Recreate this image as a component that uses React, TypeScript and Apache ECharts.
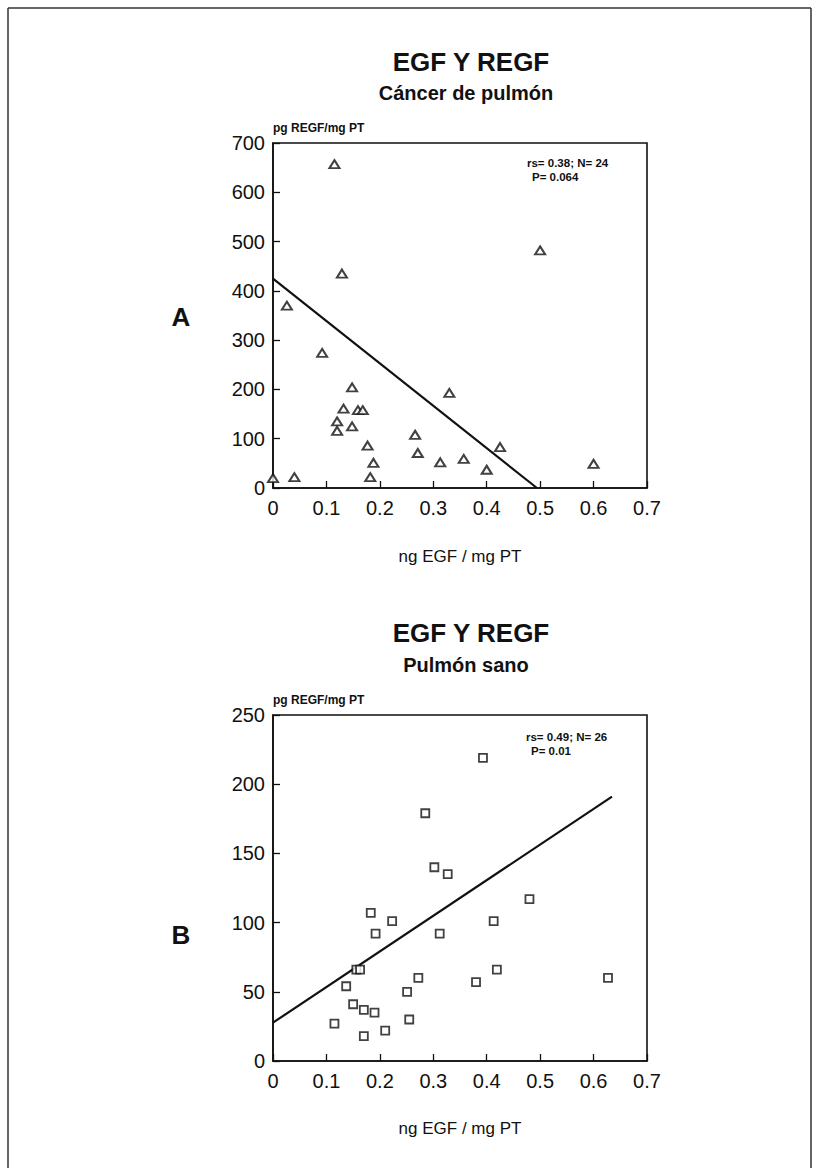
import React, { useEffect, useRef } from "react";
import * as echarts from "echarts";

// ---- Data ----
const X_TICKS = [0, 0.1, 0.2, 0.3, 0.4, 0.5, 0.6, 0.7];

// Panel A: Cáncer de pulmón (ng EGF/mg PT vs pg REGF/mg PT)
const CANCER_X = [0.0, 0.026, 0.04, 0.092, 0.115, 0.12, 0.12, 0.129, 0.132, 0.148, 0.148, 0.159, 0.168, 0.177, 0.182, 0.188, 0.266, 0.271, 0.313, 0.33, 0.357, 0.4, 0.425, 0.5, 0.6];
const CANCER_Y = [20, 370, 22, 274, 657, 135, 116, 435, 161, 204, 125, 158, 158, 86, 22, 51, 108, 71, 52, 193, 59, 37, 83, 482, 49];
const CANCER_FIT = [[0, 425], [0.494, 0]];

// Panel B: Pulmón sano
const SANO_X = [0.115, 0.137, 0.15, 0.156, 0.163, 0.17, 0.17, 0.183, 0.19, 0.192, 0.21, 0.223, 0.251, 0.255, 0.272, 0.285, 0.302, 0.312, 0.327, 0.38, 0.393, 0.413, 0.419, 0.48, 0.627];
const SANO_Y = [27, 54, 41, 66, 66, 37, 18, 107, 35, 92, 22, 101, 50, 30, 60, 179, 140, 92, 135, 57, 219, 101, 66, 117, 60];
const SANO_FIT = [[0, 27.7], [0.6345, 191]];

const FONT = "'Liberation Sans', Arial, Helvetica, sans-serif";
const INK = "#111";

function pairs(xs: number[], ys: number[]) {
  return xs.map((x, i) => [x, ys[i]]);
}

export default function App() {
  const ref = useRef<HTMLDivElement>(null);

  useEffect(() => {
    if (!ref.current) return;
    const chart = echarts.init(ref.current, null, { renderer: "svg" });

    const gridL = 273;
    const gridW = 374;
    const grids = [
      { left: gridL, top: 143, width: gridW, height: 345 },
      { left: gridL, top: 715, width: gridW, height: 346 },
    ];

    const xAxisBase = (gi: number) => ({
      type: "value",
      gridIndex: gi,
      min: X_TICKS[0],
      max: X_TICKS[X_TICKS.length - 1],
      interval: 0.1,
      axisLine: { show: true, lineStyle: { color: INK, width: 1.6 } },
      axisTick: { show: true, inside: true, length: 7, lineStyle: { color: INK, width: 1.3 } },
      splitLine: { show: false },
      axisLabel: {
        fontSize: 20,
        color: INK,
        fontFamily: FONT,
        margin: 10,
        formatter: (v: number) => (Math.abs(v) < 1e-9 ? "0" : v.toFixed(1)),
      },
    });

    const yAxisBase = (gi: number, max: number, interval: number) => ({
      type: "value",
      gridIndex: gi,
      min: 0,
      max,
      interval,
      axisLine: { show: true, lineStyle: { color: INK, width: 1.6 } },
      axisTick: { show: true, inside: true, length: 7, lineStyle: { color: INK, width: 1.3 } },
      splitLine: { show: false },
      axisLabel: { fontSize: 20, color: INK, fontFamily: FONT, margin: 8 },
    });

    const txt = (x: number, y: number, text: string, size: number, bold: boolean, align = "center") => ({
      type: "text",
      x,
      y,
      style: {
        text,
        fill: INK,
        font: `${bold ? "bold " : ""}${size}px ${FONT}`,
        align,
        verticalAlign: "middle",
      },
    });

    const frameLine = (x1: number, y1: number, x2: number, y2: number) => ({
      type: "line",
      shape: { x1, y1, x2, y2 },
      style: { stroke: "#333", lineWidth: 1.5 },
    });

    chart.setOption({
      animation: false,
      backgroundColor: "#fff",
      grid: grids.map((g) => ({ ...g, show: true, borderColor: INK, borderWidth: 1.6, backgroundColor: "transparent" })),
      xAxis: [xAxisBase(0), xAxisBase(1)],
      yAxis: [yAxisBase(0, 700, 100), yAxisBase(1, 250, 50)],
      series: [
        {
          type: "line",
          xAxisIndex: 0,
          yAxisIndex: 0,
          data: CANCER_FIT,
          symbol: "none",
          lineStyle: { color: INK, width: 2.2 },
          z: 2,
        },
        {
          type: "scatter",
          xAxisIndex: 0,
          yAxisIndex: 0,
          data: pairs(CANCER_X, CANCER_Y),
          symbol: "triangle",
          symbolSize: [10, 8],
          itemStyle: { color: "#fff", borderColor: INK, borderWidth: 2 },
          z: 3,
        },
        {
          type: "line",
          xAxisIndex: 1,
          yAxisIndex: 1,
          data: SANO_FIT,
          symbol: "none",
          lineStyle: { color: INK, width: 2.2 },
          z: 2,
        },
        {
          type: "scatter",
          xAxisIndex: 1,
          yAxisIndex: 1,
          data: pairs(SANO_X, SANO_Y),
          symbol: "rect",
          symbolSize: 8,
          itemStyle: { color: "#fff", borderColor: INK, borderWidth: 1.8 },
          z: 3,
        },
      ],
      graphic: [
        frameLine(8, 8, 811, 8),
        frameLine(8, 8, 8, 1168),
        frameLine(811, 8, 811, 1168),
        // Panel A texts
        txt(471, 62, "EGF Y REGF", 26, true),
        txt(466, 93, "Cáncer de pulmón", 20, true),
        txt(273, 128, "pg REGF/mg PT", 12, true, "left"),
        txt(527, 163, "rs= 0.38; N= 24", 11.5, true, "left"),
        txt(532, 177, "P= 0.064", 11.5, true, "left"),
        txt(460, 556, "ng EGF / mg PT", 17, false),
        txt(181, 317, "A", 26, true),
        // Panel B texts
        txt(471, 633, "EGF Y REGF", 26, true),
        txt(466, 665, "Pulmón sano", 20, true),
        txt(273, 700, "pg REGF/mg PT", 12, true, "left"),
        txt(526, 737, "rs= 0.49; N= 26", 11.5, true, "left"),
        txt(531, 751, "P= 0.01", 11.5, true, "left"),
        txt(460, 1128, "ng EGF / mg PT", 17, false),
        txt(181, 935, "B", 26, true),
      ],
    });

    return () => chart.dispose();
  }, []);

  return (
    <div
      ref={ref}
      style={{ position: "absolute", left: 0, top: 0, width: 818, height: 1168, background: "#fff" }}
    />
  );
}
